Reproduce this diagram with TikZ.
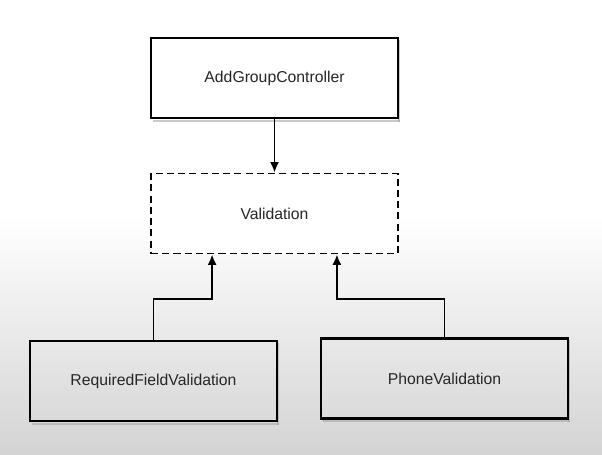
\documentclass[tikz,border=0pt]{standalone}
\usepackage{fontspec}
\setmainfont{Liberation Sans}
\usetikzlibrary{positioning,arrows,arrows.meta,calc,shapes}
\tikzset{
    on grid,
    node distance=3cm,
    auto,
    component/.style = {
        draw,
        shape=rectangle,
        minimum height=2cm,
        minimum width=6.175cm,
        line width=1.5pt,
        text=black!85,
        font=\fontsize{11.2}{13}\selectfont
    },
    interface/.style = {
        component,
        line width=1.3pt,
        dash pattern=on 5pt off 3pt
    },
    shadowbox/.style = {
        fill=black!35,
        opacity=0.6
    },
    link/.style = {
        draw,
        ->,
        line width=1.4pt
    },
    >={Latex[length=7.5pt,width=6.5pt]},
}
\begin{document}
\begin{tikzpicture}
    \useasboundingbox (0,0) rectangle (15.05,-11.35);
    % background
    \fill[white] (0,0) rectangle (15.05,-5.4);
    \shade[top color=white, bottom color=black!17] (0,-5.4) rectangle (15.05,-11.35);

    % shadows
    \fill[shadowbox] (3.83,-2.99) rectangle (10.0,-3.04);
    \fill[shadowbox] (9.95,-0.99) rectangle (10.0,-3.04);
    \fill[shadowbox] (0.8,-10.57) rectangle (6.98,-10.62);
    \fill[shadowbox] (6.93,-8.57) rectangle (6.98,-10.62);
    \fill[shadowbox] (8.07,-10.51) rectangle (14.25,-10.56);
    \fill[shadowbox] (14.2,-8.51) rectangle (14.25,-10.56);

    \node[component, fill=white] (ctrl) at (6.8625,-1.95) {AddGroupController};
    \node[interface, fill=white] (valid) at (6.8625,-5.3375) {Validation};
    \node[component] (reqfield) at (3.8375,-9.525) {RequiredFieldValidation};
    \node[component] (phone) at (11.1125,-9.4625) {PhoneValidation};

    \path[link] (ctrl.south) -- (valid.north);
    \path[link] (reqfield.north) -- ++(0,1.025) -| ([xshift=1.55cm]valid.south west);
    \path[link] (phone.north) -- ++(0,0.96) -| ([xshift=-1.55cm]valid.south east);
\end{tikzpicture}
\end{document}
